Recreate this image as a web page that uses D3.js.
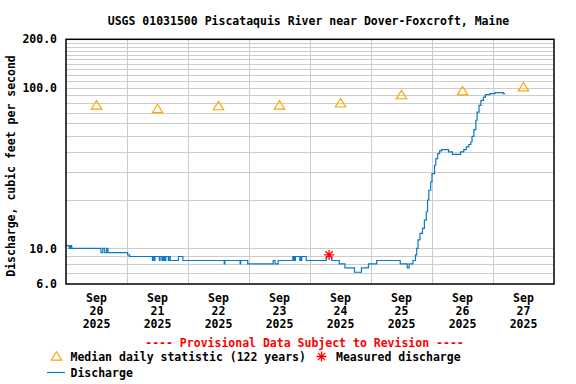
<!DOCTYPE html>
<html>
<head>
<meta charset="utf-8">
<script src="https://cdn.jsdelivr.net/npm/d3@7"></script>
<style>
	body { margin: 0; background: #fff; }
	svg text { font-family: "DejaVu Sans Mono", monospace; font-weight: bold; font-size: 11.5px; fill: #000; }
</style>
</head>
<body>
<svg id="chart" width="576" height="384"></svg>
<script>
const title = "USGS 01031500 Piscataquis River near Dover-Foxcroft, Maine";
const yTitle = "Discharge, cubic feet per second";

// y labels + grid
const yLabels = [6, 10, 100, 200];
const yGrid = [7, 8, 9, 10, 20, 30, 40, 50, 60, 70, 80, 90, 100, 110, 120, 130, 140, 150, 160, 170, 180, 190];

// daily median statistic (122 years), at noon
const medianDays = ["2025-09-20", "2025-09-21", "2025-09-22", "2025-09-23", "2025-09-24", "2025-09-25", "2025-09-26", "2025-09-27"];
const medianCfs = [78.2, 74.2, 77.4, 78.2, 80.5, 90.6, 95.8, 101.4];

// measured discharge
const measured = [["2025-09-24 07:30", 9.1]];

// provisional discharge, value holds until the next entry
const discharge = [
	["2025-09-20 00:00", 10.4], ["2025-09-20 01:15", 10.0], ["2025-09-20 01:45", 10.4], ["2025-09-20 02:15", 10.0],
	["2025-09-20 13:45", 9.4], ["2025-09-20 14:30", 10.0], ["2025-09-20 15:15", 9.4], ["2025-09-20 16:00", 10.0],
	["2025-09-20 16:30", 9.4], ["2025-09-21 00:15", 9.1], ["2025-09-21 01:00", 8.9],
	["2025-09-21 10:00", 8.4], ["2025-09-21 10:15", 8.9], ["2025-09-21 10:45", 8.4], ["2025-09-21 11:00", 8.9],
	["2025-09-21 12:45", 8.4], ["2025-09-21 13:00", 8.9], ["2025-09-21 13:45", 8.4], ["2025-09-21 14:00", 8.9],
	["2025-09-21 14:30", 8.4], ["2025-09-21 14:45", 8.9], ["2025-09-21 15:00", 8.4], ["2025-09-21 15:15", 8.9],
	["2025-09-21 16:15", 8.4], ["2025-09-21 16:30", 8.9], ["2025-09-21 17:00", 8.4], ["2025-09-21 20:15", 8.9],
	["2025-09-21 22:00", 8.4],
	["2025-09-22 14:15", 8.0], ["2025-09-22 14:30", 8.4], ["2025-09-22 20:30", 8.0], ["2025-09-22 20:45", 8.4],
	["2025-09-22 23:30", 8.0],
	["2025-09-23 09:30", 8.4], ["2025-09-23 10:15", 8.0], ["2025-09-23 11:30", 8.4], ["2025-09-23 17:15", 8.9],
	["2025-09-23 17:30", 8.4], ["2025-09-23 17:45", 8.9], ["2025-09-23 18:00", 8.4], ["2025-09-23 18:15", 8.9],
	["2025-09-23 20:00", 8.4], ["2025-09-23 20:15", 8.9], ["2025-09-23 20:30", 8.4], ["2025-09-23 20:45", 8.9],
	["2025-09-23 22:30", 8.4],
	["2025-09-24 06:30", 8.9], ["2025-09-24 08:30", 8.4], ["2025-09-24 11:30", 8.0], ["2025-09-24 13:45", 7.55],
	["2025-09-24 17:30", 7.1], ["2025-09-24 20:15", 7.55], ["2025-09-24 23:00", 8.0],
	["2025-09-25 02:15", 8.4], ["2025-09-25 11:30", 8.0], ["2025-09-25 14:15", 7.55], ["2025-09-25 15:00", 8.0],
	["2025-09-25 16:30", 8.4], ["2025-09-25 17:30", 9.1], ["2025-09-25 18:00", 10.0], ["2025-09-25 18:30", 11.3],
	["2025-09-25 19:15", 12.4], ["2025-09-25 20:15", 13.3], ["2025-09-25 21:00", 15.0], ["2025-09-25 21:45", 16.9],
	["2025-09-25 22:15", 20.0], ["2025-09-25 22:45", 23.0], ["2025-09-25 23:30", 25.9],
	["2025-09-26 00:00", 29.2], ["2025-09-26 01:00", 32.9], ["2025-09-26 01:30", 36.2], ["2025-09-26 02:15", 38.9],
	["2025-09-26 03:00", 40.4], ["2025-09-26 03:45", 41.2], ["2025-09-26 06:30", 39.8], ["2025-09-26 08:00", 38.5],
	["2025-09-26 11:15", 39.8], ["2025-09-26 12:30", 41.2], ["2025-09-26 13:30", 42.8], ["2025-09-26 14:30", 44.3],
	["2025-09-26 15:15", 45.9], ["2025-09-26 15:45", 49.8], ["2025-09-26 16:30", 54.8], ["2025-09-26 17:15", 62.7],
	["2025-09-26 17:45", 70.5], ["2025-09-26 18:30", 77.6], ["2025-09-26 19:15", 83.4], ["2025-09-26 20:15", 87.4],
	["2025-09-26 21:00", 90.5], ["2025-09-26 22:45", 91.8],
	["2025-09-27 00:45", 93.1], ["2025-09-27 04:00", 91.8], ["2025-09-27 04:45", 91.8],
];

const parseTime = d3.timeParse("%Y-%m-%d %H:%M");
const parseDay = d3.timeParse("%Y-%m-%d");

const plot = { left: 66, right: 554, top: 39.3, bottom: 284 };
const colors = {
	grid: "#cccccc",
	flow: "#0a78c8",
	median: "#ffa500",
	measured: "#ff0000",
	provisional: "#ff0000",
};

const svg = d3.select("#chart");
svg.append("rect").attr("width", 576).attr("height", 384).attr("fill", "#fff");

const x = d3
	.scaleTime()
	.domain([parseDay("2025-09-20"), parseDay("2025-09-28")])
	.range([plot.left, plot.right]);

const y = d3.scaleLog().domain([6, 200]).range([plot.bottom, plot.top]);

// grid
svg
	.append("g")
	.selectAll("line")
	.data(yGrid)
	.join("line")
	.attr("x1", plot.left)
	.attr("x2", plot.right)
	.attr("y1", (d) => Math.round(y(d)) + 0.5)
	.attr("y2", (d) => Math.round(y(d)) + 0.5)
	.attr("stroke", colors.grid)
	.attr("stroke-width", 1);

const days = d3.timeDay.range(d3.timeDay.offset(x.domain()[0], 1), x.domain()[1]);
svg
	.append("g")
	.selectAll("line")
	.data(days)
	.join("line")
	.attr("x1", (d) => Math.round(x(d)) + 0.5)
	.attr("x2", (d) => Math.round(x(d)) + 0.5)
	.attr("y1", plot.top)
	.attr("y2", plot.bottom)
	.attr("stroke", colors.grid)
	.attr("stroke-width", 1);

// y axis labels
const yAxis = svg
	.append("g")
	.attr("transform", `translate(${plot.left},0)`)
	.call(d3.axisLeft(y).tickValues(yLabels).tickFormat(d3.format(".1f")).tickSize(0).tickPadding(9));
yAxis.select(".domain").remove();

svg
	.append("text")
	.attr("transform", `translate(15,166) rotate(-90)`)
	.attr("text-anchor", "middle")
	.text(yTitle);

// x labels, three rows at noon
const noons = d3.timeDay.range(x.domain()[0], x.domain()[1]).map((d) => d3.timeHour.offset(d, 12));
const xLab = svg
	.append("g")
	.selectAll("text")
	.data(noons)
	.join("text")
	.attr("text-anchor", "middle")
	.attr("x", (d) => x(d));
xLab.append("tspan").attr("x", (d) => x(d)).attr("y", 302).text(d3.timeFormat("%b"));
xLab.append("tspan").attr("x", (d) => x(d)).attr("y", 315).text(d3.timeFormat("%d"));
xLab.append("tspan").attr("x", (d) => x(d)).attr("y", 328).text(d3.timeFormat("%Y"));

// discharge line
const flow = discharge.map(([t, v]) => ({ date: parseTime(t), value: v }));
svg
	.append("path")
	.datum(flow)
	.attr("fill", "none")
	.attr("stroke", colors.flow)
	.attr("stroke-width", 1.2)
	.attr("d", d3.line().curve(d3.curveStepAfter).x((d) => x(d.date)).y((d) => y(d.value)));

// median triangles
const triangle = "M0,-4.2L5.2,4.2L-5.2,4.2Z";
const medians = medianDays.map((d, i) => ({ date: d3.timeHour.offset(parseDay(d), 12), value: medianCfs[i] }));
svg
	.append("g")
	.selectAll("path")
	.data(medians)
	.join("path")
	.attr("transform", (d) => `translate(${x(d.date)},${y(d.value)})`)
	.attr("d", triangle)
	.attr("fill", "none")
	.attr("stroke", colors.median)
	.attr("stroke-width", 1.2);

// measured star
const star = "M-5,0H5M0,-5V5M-3.6,-3.6L3.6,3.6M-3.6,3.6L3.6,-3.6";
svg
	.append("g")
	.selectAll("path")
	.data(measured)
	.join("path")
	.attr("transform", (d) => `translate(${x(parseTime(d[0]))},${y(d[1])})`)
	.attr("d", star)
	.attr("stroke", colors.measured)
	.attr("stroke-width", 1.3);

// frame
svg
	.append("rect")
	.attr("x", plot.left)
	.attr("y", plot.top)
	.attr("width", plot.right - plot.left)
	.attr("height", plot.bottom - plot.top)
	.attr("fill", "none")
	.attr("stroke", "#000")
	.attr("stroke-width", 1.5);

// title
svg.append("text").attr("x", 308.5).attr("y", 24.5).attr("text-anchor", "middle").text(title);

// legend
svg
	.append("text")
	.attr("x", 304.5)
	.attr("y", 346.5)
	.attr("text-anchor", "middle")
	.style("fill", colors.provisional)
	.text("---- Provisional Data Subject to Revision ----");

svg
	.append("path")
	.attr("transform", "translate(56.5,356)")
	.attr("d", triangle)
	.attr("fill", "none")
	.attr("stroke", colors.median)
	.attr("stroke-width", 1.2);
svg.append("text").attr("x", 70.5).attr("y", 361).text("Median daily statistic (122 years)");

svg
	.append("path")
	.attr("transform", "translate(321.5,356.5)")
	.attr("d", star)
	.attr("stroke", colors.measured)
	.attr("stroke-width", 1.3);
svg.append("text").attr("x", 336).attr("y", 361).text("Measured discharge");

svg
	.append("line")
	.attr("x1", 47)
	.attr("x2", 65)
	.attr("y1", 372.5)
	.attr("y2", 372.5)
	.attr("stroke", colors.flow)
	.attr("stroke-width", 1.2);
svg.append("text").attr("x", 70.5).attr("y", 377).text("Discharge");
</script>
</body>
</html>
